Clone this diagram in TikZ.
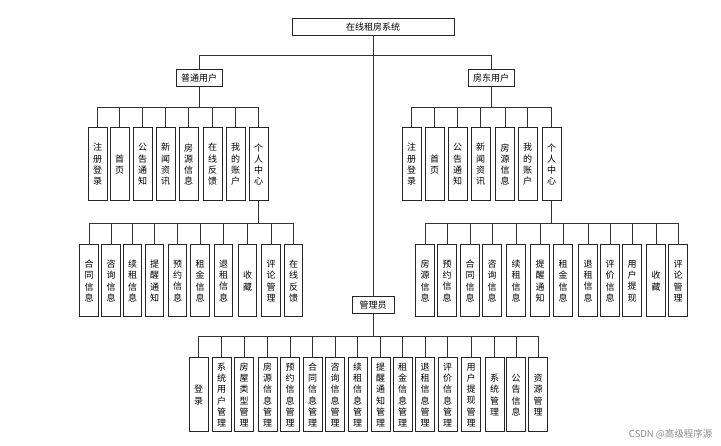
\documentclass[tikz,border=0pt]{standalone}
\usepackage{fontspec}
\setmainfont{Noto Sans CJK SC}
\colorlet{boxlinec}{black!85}
\colorlet{linkc}{black!80}
\colorlet{markc}{black!45}

\begin{document}
\begin{tikzpicture}[x=1pt,y=-1pt,
  hbox/.style={draw=boxlinec,line width=1pt,inner sep=0pt,minimum height=17pt,font=\fontsize{9}{11}\selectfont},
  vbox/.style={draw=boxlinec,line width=1pt,inner sep=0pt,minimum width=19pt,minimum height=73pt,text width=10pt,align=center,font=\fontsize{9}{11.3}\selectfont},
  link/.style={draw=linkc,line width=0.9pt}]
\useasboundingbox (0,0) rectangle (721,446);

% top levels
\node[hbox,minimum width=162pt] (sys) at (373,27.5) {在线租房系统};
\node[hbox,minimum width=46pt] (user) at (199,78) {普通用户};
\node[hbox,minimum width=46pt] (owner) at (491,78) {房东用户};
\node[hbox,minimum width=42pt] (admin) at (373,305.5) {管理员};

\coordinate (topbus) at (0,55);
\coordinate (l2bus) at (0,107);
\coordinate (l3bus) at (0,223);
\coordinate (adbus) at (0,336);

\draw[link] (sys.south) -- (admin.north);
\draw[link] (sys.south |- topbus) -| (user.north);
\draw[link] (sys.south |- topbus) -| (owner.north);

% normal user
\foreach \x/\t [count=\i] in {97.5/{注\\册\\登\\录}, 119.5/{首\\页}, 142.5/{公\\告\\通\\知}, 165.5/{新\\闻\\资\\讯},
    188.5/{房\\源\\信\\息}, 212.5/{在\\线\\反\\馈}, 235.5/{我\\的\\账\\户}, 258.5/{个\\人\\中\\心}}
  \node[vbox] (ua\i) at (\x,164.5) {\t};
\foreach \i in {1,...,8}
  \draw[link] (user.south) -- (user.south |- l2bus) -| (ua\i.north);

\foreach \x/\t [count=\i] in {89/{合\\同\\信\\息}, 111/{咨\\询\\信\\息}, 132.5/{续\\租\\信\\息}, 154.5/{提\\醒\\通\\知},
    177.5/{预\\约\\信\\息}, 200/{租\\金\\信\\息}, 223.5/{退\\租\\信\\息}, 247.5/{收\\藏},
    271/{评\\论\\管\\理}, 293.5/{在\\线\\反\\馈}}
  \node[vbox,minimum width=18.5pt,minimum height=72pt] (ub\i) at (\x,281) {\t};
\foreach \i in {1,...,10}
  \draw[link] (ua8.south) -- (ua8.south |- l3bus) -| (ub\i.north);

% landlord
\foreach \x/\t [count=\i] in {411.5/{注\\册\\登\\录}, 434.5/{首\\页}, 457.5/{公\\告\\通\\知}, 480.5/{新\\闻\\资\\讯},
    505/{房\\源\\信\\息}, 527.5/{我\\的\\账\\户}, 551.5/{个\\人\\中\\心}}
  \node[vbox] (oa\i) at (\x,164.5) {\t};
\foreach \i in {1,...,7}
  \draw[link] (owner.south) -- (owner.south |- l2bus) -| (oa\i.north);

\foreach \x/\t [count=\i] in {425/{房\\源\\信\\息}, 447/{预\\约\\信\\息}, 470/{合\\同\\信\\息}, 492/{咨\\询\\信\\息},
    516/{续\\租\\信\\息}, 540/{提\\醒\\通\\知}, 563/{租\\金\\信\\息}, 588/{退\\租\\信\\息},
    610/{评\\价\\信\\息}, 632/{用\\户\\提\\现}, 656/{收\\藏}, 678/{评\\论\\管\\理}}
  \node[vbox,minimum width=18.5pt,minimum height=72pt] (ob\i) at (\x,281) {\t};
\foreach \i in {1,...,12}
  \draw[link] (oa7.south) -- (oa7.south |- l3bus) -| (ob\i.north);

% admin
\foreach \x/\t [count=\i] in {198.5/{登\\录}, 221.5/{系\\统\\用\\户\\管\\理}, 244/{房\\屋\\类\\型\\管\\理},
    267.5/{房\\源\\信\\息\\管\\理}, 290/{预\\约\\信\\息\\管\\理}, 312.5/{合\\同\\信\\息\\管\\理},
    335/{咨\\询\\信\\息\\管\\理}, 357.5/{续\\租\\信\\息\\管\\理}, 380.5/{提\\醒\\通\\知\\管\\理},
    402.5/{租\\金\\信\\息\\管\\理}, 425/{退\\租\\信\\息\\管\\理}, 447.5/{评\\价\\信\\息\\管\\理},
    471/{用\\户\\提\\现\\管\\理}, 494.5/{系\\统\\管\\理}, 516/{公\\告\\信\\息}, 538/{资\\源\\管\\理}}
  \node[vbox,minimum height=74pt] (ad\i) at (\x,395) {\t};
\foreach \i in {1,...,16}
  \draw[link] (admin.south) -- (admin.south |- adbus) -| (ad\i.north);

\node[text=markc,font=\fontsize{9.5}{11}\selectfont,anchor=east] (mark) at (716,434) {CSDN @高级程序源};
\end{tikzpicture}
\end{document}
